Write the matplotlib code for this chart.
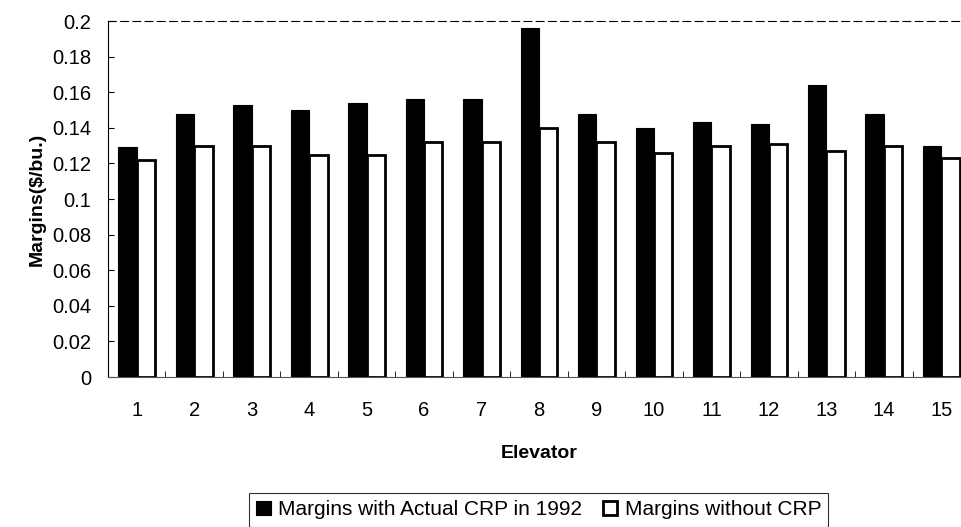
import matplotlib
matplotlib.use("Agg")
import matplotlib.pyplot as plt
import numpy as np

# values
elevators = list(range(1, 16))
with_crp = [0.129, 0.148, 0.153, 0.150, 0.154, 0.156, 0.156, 0.196,
            0.148, 0.140, 0.143, 0.142, 0.164, 0.148, 0.130]
without_crp = [0.122, 0.130, 0.130, 0.125, 0.125, 0.132, 0.132, 0.140,
               0.132, 0.126, 0.130, 0.131, 0.127, 0.130, 0.123]
y_ticks = [0, 0.02, 0.04, 0.06, 0.08, 0.1, 0.12, 0.14, 0.16, 0.18, 0.2]
labels = ["Margins with Actual CRP in 1992", "Margins without CRP"]

plt.rcParams["font.family"] = ["Liberation Sans", "DejaVu Sans"]

fig = plt.figure(figsize=(9.61, 5.27), dpi=100)
ax = fig.add_axes([0.1124, 0.2846, 0.897, 0.6755])

x = np.array(elevators)
w = 0.32
ax.bar(x - w / 2, with_crp, w, color="black", edgecolor="black",
       linewidth=0.8, label=labels[0])
ax.bar(x + w / 2, without_crp, w, color="white", edgecolor="black",
       linewidth=2, label=labels[1])

ax.set_xlim(0.5, 15.5)
ax.set_ylim(0, 0.2)
ax.set_yticks(y_ticks)
ax.set_yticklabels(["{:g}".format(v) for v in y_ticks], fontsize=14.5)
ax.set_xticks(x)
ax.set_xticklabels([str(e) for e in elevators], fontsize=14.5)
ax.tick_params(axis="x", length=0, pad=17)
ax.tick_params(axis="y", direction="in", length=4, pad=12)

# small category separators along the bottom
ax.set_xticks(np.arange(1.5, 15.5, 1), minor=True)
ax.tick_params(axis="x", which="minor", direction="in", length=4)

ax.spines["right"].set_visible(False)
ax.spines["top"].set_linestyle((0, (7, 4)))
ax.spines["top"].set_linewidth(0.8)
ax.spines["left"].set_linewidth(0.8)
ax.spines["bottom"].set_linewidth(0.8)
ax.spines["bottom"].set_color("#555555")

ax.set_xlabel("Elevator", fontsize=14, fontweight="bold", labelpad=18)
ax.set_ylabel("Margins($/bu.)", fontsize=14, fontweight="bold", labelpad=5)

leg = fig.legend(loc="upper center", bbox_to_anchor=(0.5604, 0.0645), ncol=2,
                 fontsize=15, frameon=True, fancybox=False, edgecolor="black",
                 handlelength=0.7, handleheight=0.7, handletextpad=0.35,
                 columnspacing=1.0, borderpad=0.35, borderaxespad=0)
leg.get_frame().set_linewidth(0.8)

fig.savefig("out.png", dpi=100)
